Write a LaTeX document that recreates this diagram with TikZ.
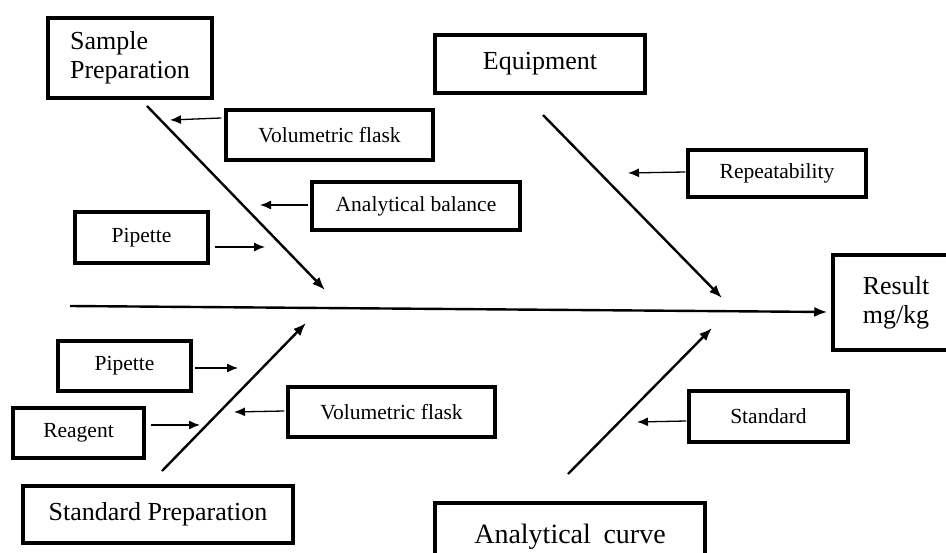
\documentclass[tikz,border=0pt]{standalone}
\usepackage{fontspec}
\setmainfont{Liberation Serif}
\usetikzlibrary{arrows.meta,calc}
\begin{document}
\begin{tikzpicture}[x=1pt,y=-1pt,
  box/.style={draw=black,line width=3.5pt,inner sep=0pt,anchor=center,align=center},
  bigtxt/.style={font=\fontsize{26}{29}\selectfont},
  smalltxt/.style={font=\fontsize{21.5}{24}\selectfont},
  branch/.style={line width=2.4pt,-{Latex[length=13pt,width=10pt]}},
  spine/.style={line width=2.4pt,-{Latex[length=13pt,width=10pt]}},
  cause/.style={line width=1.3pt,-{Latex[length=11pt,width=9pt]}}]
\useasboundingbox (0,0) rectangle (946,553);
\fill[white] (0,0) rectangle (946,553);
% main boxes
\node[box,bigtxt,align=left,minimum width=164pt,minimum height=80pt] (sp) at (130,58) {Sample\\Preparation};
\node[box,bigtxt,minimum width=210pt,minimum height=58pt] (eq) at (540,64) {Equipment};
\node[box,minimum width=150pt,minimum height=95pt] (res) at (908,302.5) {};
\node[bigtxt,align=center,inner sep=0pt] (restxt) at (896,302.5) {Result\\mg/kg};
\node[box,bigtxt,minimum width=270pt,minimum height=57pt] (stdp) at (158,514.5) {Standard Preparation};
\node[box,font=\fontsize{28}{30}\selectfont,minimum width=270pt,minimum height=68pt] (ac) at (570,537) {Analytical\hspace{0.45em}curve};
% cause boxes
\node[box,smalltxt,minimum width=207pt,minimum height=50pt] (vf1) at (329.5,135) {Volumetric flask};
\node[box,smalltxt,minimum width=208pt,minimum height=48pt] (ab) at (416,206) {Analytical balance};
\node[box,smalltxt,minimum width=133pt,minimum height=51pt] (pp1) at (141.5,237.5) {Pipette};
\node[box,smalltxt,minimum width=178pt,minimum height=47pt] (rep) at (777,173.5) {Repeatability};
\node[box,smalltxt,minimum width=133pt,minimum height=50pt] (pp2) at (124.5,366) {Pipette};
\node[box,smalltxt,minimum width=131pt,minimum height=50pt] (rg) at (78.5,433) {Reagent};
\node[box,smalltxt,minimum width=207pt,minimum height=50pt] (vf2) at (391.5,412) {Volumetric flask};
\node[box,smalltxt,minimum width=159pt,minimum height=51pt] (std) at (768.5,416.5) {Standard};
% free ends
\coordinate (s0) at (70,306);
\coordinate (b1s) at (147,106); \coordinate (b1e) at (325,290);
\coordinate (b2s) at (543,115); \coordinate (b2e) at (722,298);
\coordinate (b3s) at (162,471); \coordinate (b3e) at (306,323);
\coordinate (b4s) at (568,474); \coordinate (b4e) at (712,328);
\coordinate (t1) at (170,120);
\coordinate (t2) at (260,205);
\coordinate (t3) at (265,247);
\coordinate (t4) at (628,173);
\coordinate (t5) at (238,368);
\coordinate (t6) at (200,425);
\coordinate (t7) at (234,412);
\coordinate (t8) at (637,422);
% spine
\draw[spine] (s0) -- ($(res.west)+(-4,9.5)$);
% branches
\draw[branch] (b1s) -- (b1e);
\draw[branch] (b2s) -- (b2e);
\draw[branch] (b3s) -- (b3e);
\draw[branch] (b4s) -- (b4e);
% causes
\draw[cause] ($(vf1.west)+(-3,-17)$) -- (t1);
\draw[cause] ($(ab.west)+(-2,-1)$) -- (t2);
\draw[cause] ($(pp1.east)+(5,9.5)$) -- (t3);
\draw[cause] ($(rep.west)+(-1,-1.5)$) -- (t4);
\draw[cause] ($(pp2.east)+(2,2)$) -- (t5);
\draw[cause] ($(rg.east)+(5,-8)$) -- (t6);
\draw[cause] ($(vf2.west)+(-2,-1)$) -- (t7);
\draw[cause] ($(std.west)+(-1,4.5)$) -- (t8);
\end{tikzpicture}
\end{document}
